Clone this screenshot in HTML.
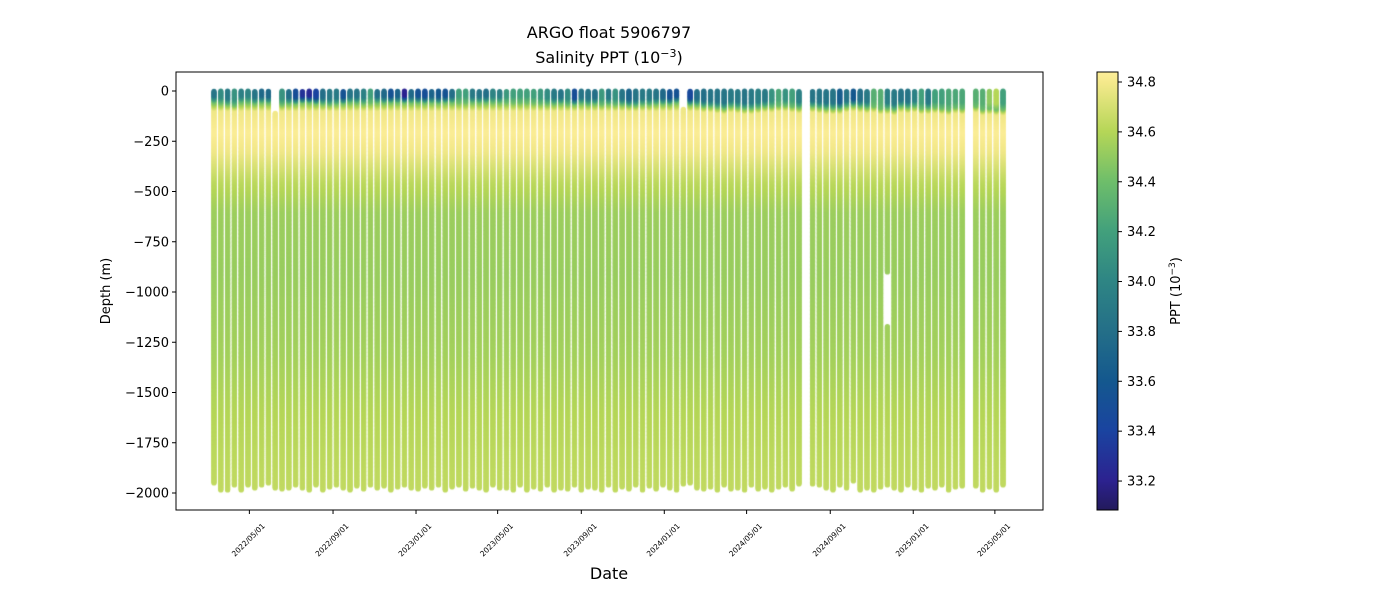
<!DOCTYPE html>
<html><head><meta charset="utf-8"><style>
body{margin:0;background:#fff;}
#wrap{position:relative;width:1400px;height:600px;font-family:"DejaVu Sans","Liberation Sans",sans-serif;}
canvas{position:absolute;left:0;top:0;}
svg{position:absolute;left:0;top:0;}
</style></head><body>
<div id="wrap">
<canvas id="cv" width="1400" height="600"></canvas>
<svg id="sv" width="1400" height="600"></svg>
</div>
<script>
// ---- data ----
const startDate = "2022-03-10";
const cycleDays = [0,10,20,30,40,50,60,70,80,90,100,110,120,130,140,150,160,170,180,190,200,210,220,230,240,250,260,270,280,290,300,310,320,330,340,350,360,370,380,390,400,410,420,430,440,450,460,470,480,490,500,510,520,530,540,550,560,570,580,590,600,610,620,630,640,650,660,670,680,690,700,710,720,730,740,750,760,770,780,790,800,810,820,830,840,850,860,880,890,900,910,920,930,940,950,960,970,980,990,1000,1010,1020,1030,1040,1050,1060,1070,1080,1090,1100,1120,1130,1140,1150,1160];
const surfaceSal = [33.85,34.05,33.9,34.1,33.95,34.0,33.85,33.75,33.75,34.3,34.1,33.8,33.5,33.3,33.25,33.4,33.8,33.9,33.9,33.55,33.85,33.85,33.95,34.2,33.8,33.75,33.55,33.7,33.2,33.75,33.55,33.5,33.7,33.6,33.55,33.8,34.2,34.2,33.9,33.85,33.8,34.0,33.95,
34.15,34.2,34.2,34.2,34.2,34.15,34.05,33.9,33.85,34.05,33.5,33.85,33.85,33.8,34.15,33.9,34.1,33.85,33.7,33.85,33.9,33.9,33.85,33.75,33.55,33.55,34.3,33.45,33.8,33.8,33.85,33.85,33.85,33.9,33.9,33.85,33.9,33.95,33.9,34.1,34.25,34.1,34.2,33.95,
33.85,33.85,33.85,33.85,33.65,33.85,33.6,33.8,33.9,34.3,34.3,33.95,33.9,33.85,33.85,33.95,34.2,33.9,34.2,34.2,34.25,34.25,34.25,
34.3,34.3,34.5,34.6,34.2];
const mixedDepth = [20,25,30,35,20,20,25,20,22,0,30,25,25,20,20,25,27,30,27,25,20,22,25,20,20,22,20,20,20,20,20,22,20,22,20,20,20,20,20,20,20,20,20,
20,20,20,20,22,25,27,27,25,30,30,25,30,27,30,27,30,30,35,35,30,30,27,27,27,20,0,30,32,40,40,45,50,40,45,50,50,45,40,40,35,35,40,45,
40,45,50,50,50,40,35,40,45,40,50,50,55,40,45,40,50,50,45,50,55,45,50,
40,55,50,55,55];
const topDepth = [0,0,0,0,0,0,0,0,0,110,0,0,0,0,0,0,0,0,0,0,0,0,0,0,0,0,0,0,0,0,0,0,0,0,0,0,0,0,0,0,0,0,0,
0,0,0,0,0,0,0,0,0,0,0,0,0,0,0,0,0,0,0,0,0,0,0,0,0,0,90,0,0,0,0,0,0,0,0,0,0,0,0,0,0,0,0,0,
0,0,0,0,0,0,0,0,0,0,0,0,0,0,0,0,0,0,0,0,0,0,0,
0,0,0,0,0];
const maxDepth = [1950,1985,1985,1960,1985,1960,1975,1960,1950,1975,1980,1975,1960,1975,1985,1960,1985,1970,1960,1975,1985,1965,1980,1960,1975,1965,1985,1970,1960,1975,1980,1965,1975,1960,1985,1970,1960,1980,1965,1975,1985,1960,1975,
1975,1985,1960,1985,1970,1980,1960,1985,1975,1980,1960,1985,1970,1975,1985,1960,1985,1970,1980,1960,1985,1965,1980,1960,1975,1985,1955,1950,1975,1980,1970,1985,1960,1980,1975,1985,1960,1980,1970,1985,1970,1960,1980,1955,
1955,1960,1975,1985,1960,1975,1940,1985,1975,1985,1970,1960,1975,1985,1960,1975,1985,1965,1975,1960,1985,1970,1965,
1965,1985,1970,1985,1960];
const gapProfile = 98; const gapTop = 900; const gapBottom = 1170;
const baseDepths = [200,300,450,600,900,1300,1600,2000];
const baseSal = [34.83,34.78,34.62,34.53,34.52,34.55,34.6,34.64];
const yTicks = [0,-250,-500,-750,-1000,-1250,-1500,-1750,-2000];
const xTickDates = ["2022/05/01","2022/09/01","2023/01/01","2023/05/01","2023/09/01","2024/01/01","2024/05/01","2024/09/01","2025/01/01","2025/05/01"];
const cbTicks = [33.2,33.4,33.6,33.8,34.0,34.2,34.4,34.6,34.8];
const cmapVals = [33.08,33.2,33.4,33.6,33.8,34.0,34.2,34.4,34.6,34.8,34.84];
const cmapCols = ["#231a5c","#2c2290","#1a44a0","#14588e","#246f88","#2e8584","#42a07c","#6ebe6a","#b5d657","#f5e98c","#fdee99"];

// ---- scales ----
const PL=176,PR=1043,PT=72,PB=510;
const day0 = Date.parse(startDate);
const xDay = d => 214 + d*0.6802;
const xDate = s => xDay((Date.parse(s.replace(/\//g,'-'))-day0)/86400000);
const yDepth = d => 91 + d*0.201;
const yVal = v => 91 - v*0.201;
const cbY = v => 82 + (34.8-v)*249.4;
function hex(c){return [parseInt(c.slice(1,3),16),parseInt(c.slice(3,5),16),parseInt(c.slice(5,7),16)];}
function cmap(v){
  if(v<=cmapVals[0]) return cmapCols[0];
  for(let i=1;i<cmapVals.length;i++){
    if(v<=cmapVals[i]){
      const t=(v-cmapVals[i-1])/(cmapVals[i]-cmapVals[i-1]);
      const a=hex(cmapCols[i-1]),b=hex(cmapCols[i]);
      return `rgb(${a.map((x,k)=>Math.round(x+(b[k]-x)*t)).join(',')})`;
    }
  }
  return cmapCols[cmapCols.length-1];
}
function interp(xs,ys,x){
  if(x<=xs[0])return ys[0];
  for(let i=1;i<xs.length;i++) if(x<=xs[i]) return ys[i-1]+(ys[i]-ys[i-1])*(x-xs[i-1])/(xs[i]-xs[i-1]);
  return ys[ys.length-1];
}
// ---- profiles ----
const ctx=document.getElementById('cv').getContext('2d');
for(let p=0;p<cycleDays.length;p++){
  const x=xDay(cycleDays[p]);
  const s=surfaceSal[p], m=mixedDepth[p];
  const ds=[0,m,m+30,Math.max(m+55,90)].concat(baseDepths);
  const ss=[s,s,34.4,34.78].concat(baseSal);
  for(let d=maxDepth[p]; d>=topDepth[p]; d-=4){
    if(p===gapProfile && d>gapTop && d<gapBottom) continue;
    ctx.fillStyle=cmap(interp(ds,ss,d));
    ctx.beginPath();ctx.arc(x,yDepth(d),2.6,0,Math.PI*2);ctx.fill();
  }
}
// ---- axes ----
const svg=document.getElementById('sv');
const NS="http://www.w3.org/2000/svg";
function el(t,a,txt){const e=document.createElementNS(NS,t);for(const k in a)e.setAttribute(k,a[k]);if(txt!==undefined)e.textContent=txt;svg.appendChild(e);return e;}
let e;
e=el('rect',{x:PL,y:PT,width:PR-PL,height:PB-PT,fill:'none',stroke:'#000','stroke-width':1});


yTicks.forEach(v=>{
  const y=yVal(v);
  el('line',{x1:PL-4,x2:PL,y1:y,y2:y,stroke:'#000'});
  e=el('text',{x:PL-7,y:y+4.5,'text-anchor':'end','font-size':13},String(v).replace('-','\u2212'));
  
  
});
xTickDates.forEach(s=>{
  const x=xDate(s);
  el('line',{x1:x,x2:x,y1:PB,y2:PB+4,stroke:'#000'});
  const cy=PB+30;
  e=el('text',{x:x-1,y:cy+2.5,'text-anchor':'middle','font-size':7.5,transform:`rotate(-45 ${x-1} ${cy})`},s);
  
  
});
e=el('text',{x:609,y:38,'text-anchor':'middle','font-size':16},'ARGO float 5906797');


e=el('text',{x:609,y:63,'text-anchor':'middle','font-size':16});
e.innerHTML='Salinity PPT (10<tspan dy="-6" font-size="11">\u22123</tspan><tspan dy="6">)</tspan>';


e=el('text',{x:609,y:579,'text-anchor':'middle','font-size':16},'Date');


e=el('text',{x:110,y:291,'text-anchor':'middle','font-size':13,transform:'rotate(-90 110 291)'},'Depth (m)');


// colorbar
const defs=el('defs',{});
const g=document.createElementNS(NS,'linearGradient');
g.setAttribute('id','cb');g.setAttribute('x1','0');g.setAttribute('x2','0');g.setAttribute('y1','1');g.setAttribute('y2','0');
cmapVals.forEach((v,i)=>{const st=document.createElementNS(NS,'stop');st.setAttribute('offset',(v-cmapVals[0])/(cmapVals[cmapVals.length-1]-cmapVals[0]));st.setAttribute('stop-color',cmapCols[i]);g.appendChild(st);});
defs.appendChild(g);
e=el('rect',{x:1097,y:72,width:21,height:438,fill:'url(#cb)',stroke:'#000','stroke-width':1});


cbTicks.forEach(v=>{
  const y=cbY(v);
  el('line',{x1:1118,x2:1122,y1:y,y2:y,stroke:'#000'});
  e=el('text',{x:1127,y:y+4.5,'font-size':13},v.toFixed(1));
  
  
});
e=el('text',{x:1180,y:291,'text-anchor':'middle','font-size':13,transform:'rotate(-90 1180 291)'});
e.innerHTML='PPT (10<tspan dy="-5" font-size="9">\u22123</tspan><tspan dy="5">)</tspan>';


</script>
</body></html>
